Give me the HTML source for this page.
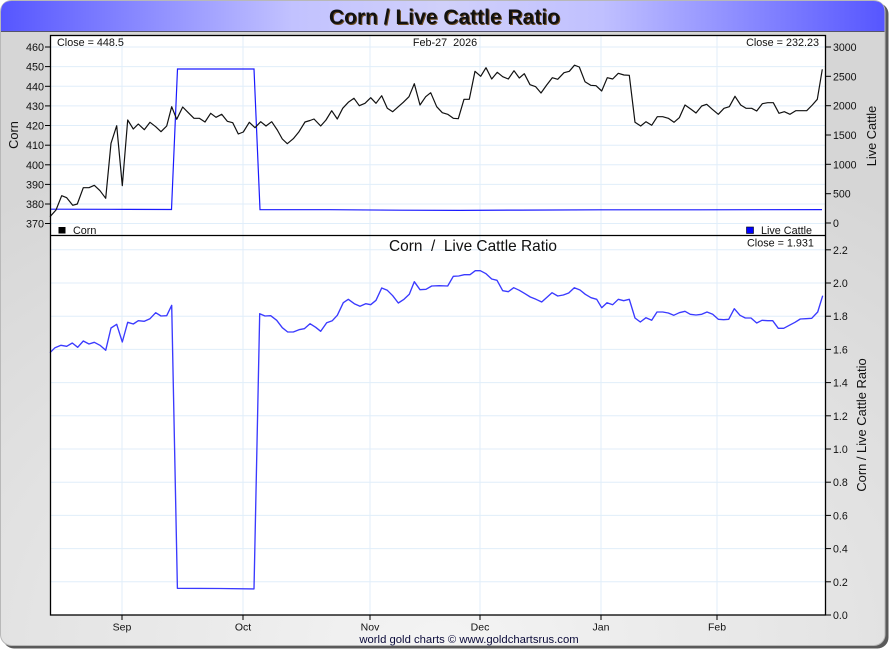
<!DOCTYPE html>
<html><head><meta charset="utf-8"><style>
html,body{margin:0;padding:0;background:#fff;width:890px;height:650px;overflow:hidden}
svg{display:block}
text{font-family:"Liberation Sans",Arial,sans-serif}
.pre{white-space:pre}
</style></head><body>
<svg width="890" height="650" viewBox="0 0 890 650" xmlns="http://www.w3.org/2000/svg">
<defs>
<radialGradient id="bg" cx="0.5" cy="1" r="0.85">
<stop offset="0" stop-color="#f4f4f4"/><stop offset="1" stop-color="#d6d6d6"/>
</radialGradient>
<linearGradient id="tb" x1="0" y1="0" x2="1" y2="0">
<stop offset="0" stop-color="#5656ff"/><stop offset="0.33" stop-color="#c2c2ff"/>
<stop offset="0.5" stop-color="#d0d0fa"/><stop offset="0.68" stop-color="#c0c0ff"/>
<stop offset="1" stop-color="#5656ff"/>
</linearGradient>
</defs>
<!-- frame -->
<rect x="3" y="3" width="885.5" height="645.5" rx="11" fill="#5a5a5a"/>
<rect x="0.5" y="0.5" width="884.5" height="645" rx="11" fill="url(#bg)" stroke="#b8b8b8"/>
<path d="M1,31 L1,12 Q1,1 12,1 L873,1 Q884.5,1 884.5,12 L884.5,31 Z" fill="url(#tb)"/>
<line x1="1" y1="31.5" x2="884.5" y2="31.5" stroke="#55556a" stroke-width="1"/>
<text x="444.5" y="24" font-size="21" font-weight="bold" text-anchor="middle" fill="#111" style="text-shadow:1px 1px 0 #6a4a20">Corn / Live Cattle Ratio</text>

<!-- plot area -->
<rect x="50" y="35" width="775.5" height="580" fill="#fff"/>
<g stroke="#e0eefa" stroke-width="1">
<line x1="122" y1="35" x2="122" y2="615"/><line x1="243" y1="35" x2="243" y2="615"/>
<line x1="370" y1="35" x2="370" y2="615"/><line x1="480" y1="35" x2="480" y2="615"/>
<line x1="601" y1="35" x2="601" y2="615"/><line x1="717" y1="35" x2="717" y2="615"/>
<line x1="50" y1="47" x2="825" y2="47"/><line x1="50" y1="66.6" x2="825" y2="66.6"/>
<line x1="50" y1="86.3" x2="825" y2="86.3"/><line x1="50" y1="105.9" x2="825" y2="105.9"/>
<line x1="50" y1="125.5" x2="825" y2="125.5"/><line x1="50" y1="145.2" x2="825" y2="145.2"/>
<line x1="50" y1="164.8" x2="825" y2="164.8"/><line x1="50" y1="184.4" x2="825" y2="184.4"/>
<line x1="50" y1="204" x2="825" y2="204"/><line x1="50" y1="223.5" x2="825" y2="223.5"/>
<line x1="50" y1="249.8" x2="825" y2="249.8"/><line x1="50" y1="283" x2="825" y2="283"/>
<line x1="50" y1="316.2" x2="825" y2="316.2"/><line x1="50" y1="349.4" x2="825" y2="349.4"/>
<line x1="50" y1="382.6" x2="825" y2="382.6"/><line x1="50" y1="415.8" x2="825" y2="415.8"/>
<line x1="50" y1="449" x2="825" y2="449"/><line x1="50" y1="482.2" x2="825" y2="482.2"/>
<line x1="50" y1="515.4" x2="825" y2="515.4"/><line x1="50" y1="548.6" x2="825" y2="548.6"/>
<line x1="50" y1="581.8" x2="825" y2="581.8"/>
</g>

<!-- live cattle (top) -->
<polyline fill="none" stroke="#1a1aff" stroke-width="1.2" points="50,209.2 110,209.3 171.5,209.5 177.5,69 254,69 260,209.6 330,209.7 400,210.2 460,210.4 520,210.1 600,209.8 700,209.8 822,209.6"/>
<!-- corn -->
<polyline fill="none" stroke="#111" stroke-width="1.2" stroke-linejoin="round" points="50,216.7 56,210 61.7,195.7 66.7,197.7 72.7,205.3 77.3,204 83.3,187.7 89,187.7 94.3,185.3 100,190.7 105.7,198.3 111,143.3 116.7,125.7 122.3,185.7 127.7,120 133.3,129 138.3,124 144.3,129.7 150,122.3 155.7,126.7 161,131.7 166.7,126 171.7,106.7 176.7,119.3 182.7,107 188.3,112.7 194,118.3 199.3,118.3 205,122 210.7,113.3 216,117.3 221.7,114.3 227.3,121.3 232.7,122.7 238.3,134 243.3,132 249.3,122.3 255,127.7 260.7,121.7 266,126 271.7,121.7 277.3,130 282.3,139 287.3,143.7 293.3,138.7 299,131.7 305,122 310,120.5 314,119 320.7,126 326,120 331.7,110.7 337.3,119 342.7,108.3 348.3,102.3 354,98.3 359.3,105.7 365,103.3 370.7,97.7 376,103.3 381.7,95.7 387.3,108.3 392.7,111.7 398.3,106.7 403.3,102.3 409,96.7 414.3,83.7 420,105 425.7,96.7 430.7,92.7 436.7,106.7 442.3,112.7 447.7,114.3 453.3,118.3 458.3,118.7 464,99.3 469.3,99.3 475,71.3 480.7,76.3 486,67.7 491.7,79 497.3,72.3 502.7,76.7 508.3,79 514,70.7 519.3,78 524.3,73.7 530,84.7 535.7,86.7 541,93 546.7,85 552.3,77.7 557.7,79.3 564,72.7 569.3,71.3 574.5,65.2 579.3,67 585,81.7 590.7,85.3 596,85.7 601.7,91 607.3,77.7 612.7,79 618.3,73.3 624,75 629.3,75.3 635,122.3 640.7,126 646,121.7 651.7,125.3 657.3,116.7 662.7,116.7 668.3,118.3 674,122.3 679.3,117.7 685,105 690.7,109 696,113 701.7,106 706.7,104.3 712.3,109.3 718.3,114.3 724,108.3 729.3,106.7 735,96.3 740.7,105 746,108.3 751.7,108.3 756.7,111 762.3,103.7 767.7,102.7 773.3,102.7 779,113.3 784.3,111.7 790,114.3 795.7,110.7 801,110.7 806.7,110.7 812.3,105 817.3,99.3 822.3,69.3"/>
<!-- ratio -->
<polyline fill="none" stroke="#3a3aff" stroke-width="1.35" stroke-linejoin="round" points="50,352.7 55,347.7 61,345.3 66.7,346.3 72.3,343 77.7,347.3 83.3,341 89,344 94.3,342.3 100,345.3 105.7,350.3 111,328 116.7,324.3 122.3,342 127.7,322.3 133.3,324 138.3,320.7 144.3,321.3 150,318.7 155.7,312.7 161,316 166.7,315.7 171.7,305.3 177.4,588.3 220,588.5 254,588.9 259.7,313.7 265,316 270.7,315.7 276.7,320.3 282.3,327.7 287.7,332 293.3,332 299,329.7 304.3,328.7 310,323.7 315.7,327.3 320.7,331.3 326.7,322.7 332.3,320.7 337.3,315.3 343.3,302.7 348.3,299.3 354.3,303.7 360,306.3 365.7,303.7 370.7,304.7 376,300.3 381.7,288 387.3,290.3 392.7,295.7 398.3,303 404,299.3 409.3,294.3 414.3,281.7 420,289.7 426,289.3 431.7,286 439.3,285.7 447.7,286 453.3,276.3 458.7,276 464.3,274.7 470,274.7 475.3,270.7 480.3,270.7 486,273.7 491.7,279 497,280.3 502.7,290.7 508.3,291.7 513.7,287.7 519.3,290.3 525,293.7 530.3,297 536,299.3 541.7,302 547,297.3 552,292.7 557.7,296 563.3,295 568.7,293 574.3,287.7 580,290 585.3,294.3 591,297.7 596.7,299.3 601.7,307.7 607,302.7 612.7,304.7 618.3,299.3 623.7,300.7 629.3,299.3 635,318 640.3,322 646,317.7 651.7,320.3 657,312 662.7,312 668.3,313 673.7,315.3 679.3,312.7 685,311.3 690.3,314.3 696,315 701.7,314.3 707,312 712.7,314.3 718.3,319.3 723.7,319.7 728.7,319.3 734.3,308.7 740,315.3 745.3,318 751,318 756.7,323 762,320.3 767.7,320.7 772.7,320.7 778.3,328.3 783.7,328.3 789.3,325.3 795,322.3 800.3,319 806,318.7 811.7,318.3 817.7,312 822.7,295.7"/>

<!-- plot borders -->
<rect x="50.5" y="35.5" width="775" height="579.5" fill="none" stroke="#000" stroke-width="1.3"/>
<line x1="50" y1="235.5" x2="826" y2="235.5" stroke="#000" stroke-width="1.3"/>

<!-- in-plot texts -->
<g font-size="10.8" fill="#111">
<text x="57" y="46">Close = 448.5</text>
<text x="445" y="46" text-anchor="middle" class="pre">Feb-27  2026</text>
<text x="819" y="46" text-anchor="end">Close = 232.23</text>
<text x="73" y="234">Corn</text>
<text x="761" y="234">Live Cattle</text>
<text x="747" y="246.5">Close = 1.931</text>
</g>
<rect x="58.5" y="227" width="7" height="6.5" fill="#000"/>
<rect x="746.5" y="227" width="7" height="6.5" fill="#0000ff" stroke="#000" stroke-width="0.6"/>
<text x="473" y="251" font-size="16" text-anchor="middle" fill="#111" class="pre" textLength="168" lengthAdjust="spacingAndGlyphs">Corn  /  Live Cattle Ratio</text>

<!-- ticks -->
<g stroke="#000" stroke-width="1">
<line x1="45" y1="47" x2="50" y2="47"/><line x1="45" y1="66.6" x2="50" y2="66.6"/>
<line x1="45" y1="86.3" x2="50" y2="86.3"/><line x1="45" y1="105.9" x2="50" y2="105.9"/>
<line x1="45" y1="125.5" x2="50" y2="125.5"/><line x1="45" y1="145.2" x2="50" y2="145.2"/>
<line x1="45" y1="164.8" x2="50" y2="164.8"/><line x1="45" y1="184.4" x2="50" y2="184.4"/>
<line x1="45" y1="204" x2="50" y2="204"/><line x1="45" y1="223.5" x2="50" y2="223.5"/>
<line x1="826" y1="47" x2="831" y2="47"/><line x1="826" y1="76.3" x2="831" y2="76.3"/>
<line x1="826" y1="105.7" x2="831" y2="105.7"/><line x1="826" y1="135" x2="831" y2="135"/>
<line x1="826" y1="164.3" x2="831" y2="164.3"/><line x1="826" y1="193.7" x2="831" y2="193.7"/>
<line x1="826" y1="223" x2="831" y2="223"/>
<line x1="826" y1="249.8" x2="831" y2="249.8"/><line x1="826" y1="283" x2="831" y2="283"/>
<line x1="826" y1="316.2" x2="831" y2="316.2"/><line x1="826" y1="349.4" x2="831" y2="349.4"/>
<line x1="826" y1="382.6" x2="831" y2="382.6"/><line x1="826" y1="415.8" x2="831" y2="415.8"/>
<line x1="826" y1="449" x2="831" y2="449"/><line x1="826" y1="482.2" x2="831" y2="482.2"/>
<line x1="826" y1="515.4" x2="831" y2="515.4"/><line x1="826" y1="548.6" x2="831" y2="548.6"/>
<line x1="826" y1="581.8" x2="831" y2="581.8"/><line x1="826" y1="615" x2="831" y2="615"/>
<line x1="122" y1="615" x2="122" y2="620"/><line x1="243" y1="615" x2="243" y2="620"/>
<line x1="370" y1="615" x2="370" y2="620"/><line x1="480" y1="615" x2="480" y2="620"/>
<line x1="601" y1="615" x2="601" y2="620"/><line x1="717" y1="615" x2="717" y2="620"/>
</g>

<!-- tick labels -->
<g font-size="10.8" fill="#111" text-anchor="end">
<text x="44" y="51">460</text><text x="44" y="70.6">450</text><text x="44" y="90.3">440</text>
<text x="44" y="109.9">430</text><text x="44" y="129.5">420</text><text x="44" y="149.2">410</text>
<text x="44" y="168.8">400</text><text x="44" y="188.4">390</text><text x="44" y="208">380</text>
<text x="44" y="227.5">370</text>
</g>
<g font-size="10.6" fill="#111">
<text x="833" y="51">3000</text><text x="833" y="80.3">2500</text><text x="833" y="109.7">2000</text>
<text x="833" y="139">1500</text><text x="833" y="168.3">1000</text><text x="833" y="197.7">500</text>
<text x="833" y="227">0</text>
<text x="833" y="253.8">2.2</text><text x="833" y="287">2.0</text><text x="833" y="320.2">1.8</text>
<text x="833" y="353.4">1.6</text><text x="833" y="386.6">1.4</text><text x="833" y="419.8">1.2</text>
<text x="833" y="453">1.0</text><text x="833" y="486.2">0.8</text><text x="833" y="519.4">0.6</text>
<text x="833" y="552.6">0.4</text><text x="833" y="585.8">0.2</text><text x="833" y="619">0.0</text>
</g>
<g font-size="10.5" fill="#111" text-anchor="middle">
<text x="122" y="630.5">Sep</text><text x="243" y="630.5">Oct</text><text x="370" y="630.5">Nov</text>
<text x="480" y="630.5">Dec</text><text x="601" y="630.5">Jan</text><text x="717" y="630.5">Feb</text>
</g>
<text x="469" y="643" font-size="11.3" text-anchor="middle" fill="#0a0a3a">world gold charts © www.goldchartsrus.com</text>

<!-- axis titles -->
<text transform="translate(18,135) rotate(-90)" font-size="12.8" text-anchor="middle" fill="#111">Corn</text>
<text transform="translate(876,136) rotate(-90)" font-size="12.8" text-anchor="middle" fill="#111">Live Cattle</text>
<text transform="translate(866,425) rotate(-90)" font-size="12.9" text-anchor="middle" fill="#111">Corn / Live Cattle Ratio</text>
</svg>
</body></html>
